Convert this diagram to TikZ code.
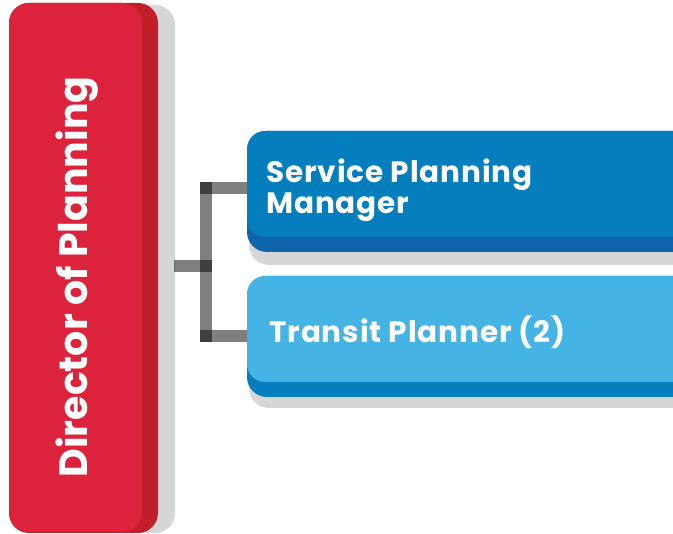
\documentclass[tikz,border=0pt]{standalone}
\usepackage{fontspec}
\setmainfont{Poppins}
\definecolor{dirred}{RGB}{221,34,59}
\definecolor{dirredside}{RGB}{192,30,40}
\definecolor{spmblue}{RGB}{4,126,189}
\definecolor{spmblueside}{RGB}{15,101,172}
\definecolor{tpblue}{RGB}{69,179,227}
\definecolor{tpblueside}{RGB}{4,126,189}
\definecolor{shadowgray}{RGB}{213,214,216}
\begin{document}
\begin{tikzpicture}[x=1pt,y=-1pt,
    face/.style={rounded corners=18pt,inner sep=0pt},
    label/.style={text=white,font=\bfseries,inner sep=0pt},
    boxfont/.style={font=\bfseries\fontsize{29.5}{31}\selectfont\addfontfeatures{LetterSpace=3}},
    link/.style={draw=black,draw opacity=0.5,line width=12pt}]
  \useasboundingbox (0,0) rectangle (673,534);
  \clip (0,0) rectangle (673,534);
  \begin{scope}[rounded corners=20pt]
    \fill[shadowgray] (20,5) rectangle (175,533);
    \fill[dirredside] (9,3) rectangle (158,533);
    \fill[shadowgray] (249,140) rectangle (700,265);
    \fill[spmblueside] (247,131) rectangle (700,252);
    \fill[shadowgray] (249,285) rectangle (700,408);
    \fill[tpblueside] (247,276) rectangle (700,397);
  \end{scope}
  \node[face,fill=dirred,minimum width=133pt,minimum height=529pt,rounded corners=20pt] (dir) at (75.5,267.5) {};
  \node[face,fill=spmblue,minimum width=453pt,minimum height=106pt] (spm) at (473.5,184) {};
  \node[face,fill=tpblue,minimum width=453pt,minimum height=106pt] (tp) at (473.5,329) {};
  \node[label,rotate=90,font=\bfseries\fontsize{39.5}{40}\selectfont] (dirtext) at (77,277) {Director of Planning};
  \node[label,boxfont,anchor=north west,align=left] (spmtext) at (266,159) {Service Planning\\Manager};
  \node[label,boxfont,anchor=base west] (tptext) at (269,343) {Transit Planner (2)};
  \coordinate (dirout) at (174,266.5);
  \coordinate (hub) at (212,266.5);
  \coordinate (bustop) at (206,182);
  \coordinate (busbot) at (206,342);
  \coordinate (spmleg) at (200,188);
  \coordinate (tpleg) at (200,336);
  \draw[link] (dirout) -- (hub);
  \draw[link] (bustop) -- (busbot);
  \draw[link] (spmleg) -- (spmleg -| spm.west);
  \draw[link] (tpleg) -- (tpleg -| tp.west);
\end{tikzpicture}
\end{document}
